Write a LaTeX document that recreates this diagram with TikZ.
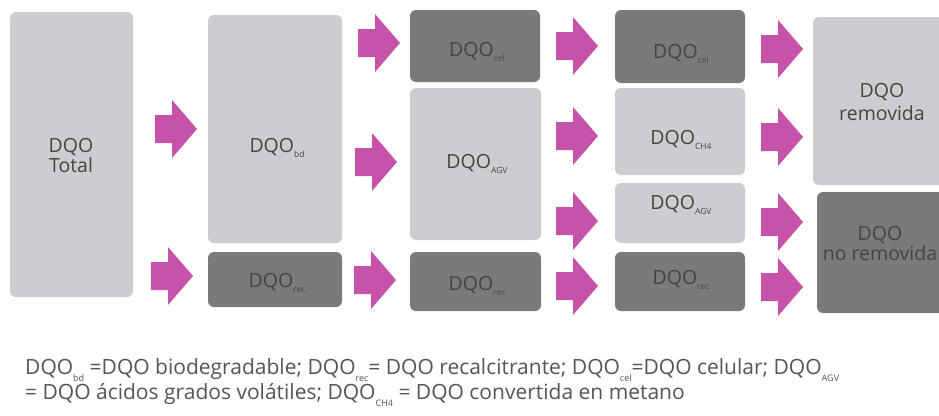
\documentclass[tikz,border=0pt]{standalone}
\usepackage{fontspec}
\setmainfont{Open Sans}
\definecolor{lightbox}{RGB}{205,205,209}
\definecolor{darkbox}{RGB}{122,122,122}
\definecolor{arrowmag}{RGB}{199,82,170}
\definecolor{txtgray}{RGB}{68,68,68}
\definecolor{captgray}{RGB}{85,85,85}
\newcommand\dsub[1]{\raisebox{-5pt}{\fontsize{8.5}{9}\selectfont #1}}
\newcommand\csub[1]{\raisebox{-7pt}{\fontsize{9}{10}\selectfont #1}}
\tikzset{
  lbox/.style={fill=lightbox, rounded corners=6pt},
  dbox/.style={fill=darkbox, rounded corners=6pt},
  lbl/.style={text=txtgray, font=\fontsize{19.5}{20}\selectfont, align=center, inner sep=0pt, anchor=base},
  blockarrow/.pic={\fill[arrowmag] (-21,-14) -- (-4,-14) -- (-4,-29) -- (21,0) -- (-4,29) -- (-4,14) -- (-21,14) -- cycle;}
}
\begin{document}
\begin{tikzpicture}[x=1pt,y=-1pt]
\useasboundingbox (0,0) rectangle (939,415);
\clip (0,0) rectangle (939,415);
\fill[white] (0,0) rectangle (939,415);
% boxes
\path[lbox] (10,12) rectangle (133,297);
\node[lbl] (total) at (71,172) {DQO\\Total};
\path[lbox] (208,15) rectangle (342,243);
\node[lbl] (bd) at (277,152) {DQO\dsub{bd}};
\path[dbox] (208,252) rectangle (342,307);
\node[lbl] (rec1) at (277,287) {DQO\dsub{rec}};
\path[dbox] (410,10) rectangle (540,82);
\node[lbl] (cel1) at (477,56) {DQO\dsub{cel}};
\path[lbox] (410,88) rectangle (541,240);
\node[lbl] (agv1) at (477,168) {DQO\dsub{AGV}};
\path[dbox] (410,252) rectangle (541,311);
\node[lbl] (rec2) at (477,290) {DQO\dsub{rec}};
\path[dbox] (615,10) rectangle (745,83);
\node[lbl] (cel2) at (681,58) {DQO\dsub{cel}};
\path[lbox] (615,88) rectangle (745,175);
\node[lbl] (ch4) at (681,144) {DQO\dsub{CH4}};
\path[lbox] (615,183) rectangle (745,243);
\node[lbl] (agv2) at (681,209) {DQO\dsub{AGV}};
\path[dbox] (615,252) rectangle (745,311);
\node[lbl] (rec3) at (681,284) {DQO\dsub{rec}};
\path[lbox] (813,17) rectangle (960,185);
\node[lbl, font=\fontsize{19.5}{23}\selectfont] (rem) at (882,120) {DQO\\removida};
\path[dbox] (817,192) rectangle (960,313);
\node[lbl, font=\fontsize{19.5}{15}\selectfont] (norem) at (880,260) {DQO\\no removida};
% arrows
\pic (a1) at (176,129) {blockarrow};
\pic (a2) at (172,276) {blockarrow};
\pic (a3) at (379,43) {blockarrow};
\pic (a4) at (376,162) {blockarrow};
\pic (a5) at (375,280) {blockarrow};
\pic (a6) at (577,46) {blockarrow};
\pic (a7) at (577,136) {blockarrow};
\pic (a8) at (577,221) {blockarrow};
\pic (a9) at (577,286) {blockarrow};
\pic (a10) at (782,49) {blockarrow};
\pic (a11) at (782,137) {blockarrow};
\pic (a12) at (782,222) {blockarrow};
\pic (a13) at (782,287) {blockarrow};
% caption
\node[anchor=base west, text=captgray, font=\fontsize{21}{18}\selectfont, inner sep=0pt, align=left] (cap) at (25,399)
 {DQO\csub{bd} =DQO biodegradable; DQO\csub{rec}= DQO recalcitrante; DQO\csub{cel}=DQO celular; DQO\csub{AGV}\\
 = DQO ácidos grados volátiles; DQO\csub{CH4} = DQO convertida en metano};
\end{tikzpicture}
\end{document}
